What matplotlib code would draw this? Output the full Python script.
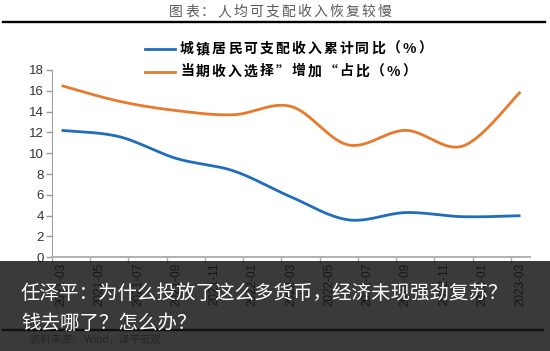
import numpy as np
import matplotlib.pyplot as plt
from matplotlib.patches import Rectangle
from matplotlib.lines import Line2D

plt.rcParams['font.family'] = ['Noto Sans CJK SC', 'DejaVu Sans']

W, H = 550, 351

# quarterly points, in months from 2021-03
months = np.arange(0, 25, 3)
urban_yoy = [12.2, 11.6, 9.5, 8.3, 5.8, 3.6, 4.3, 3.9, 4.0]
income_up = [16.5, 15.0, 14.1, 13.7, 14.5, 10.8, 12.2, 10.7, 15.9]

tick_pos = np.arange(0, 25, 2)
tick_labels = ['2021-03', '2021-05', '2021-07', '2021-09', '2021-11',
               '2022-01', '2022-03', '2022-05', '2022-07', '2022-09',
               '2022-11', '2023-01', '2023-03']

name_urban = '城镇居民可支配收入累计同比（%）'
name_income = '当期收入选择”增加“占比（%）'
title = '图表：人均可支配收入恢复较慢'
source = '资料来源： Wind，泽平宏观'
banner = ['任泽平：为什么投放了这么多货币，经济未现强劲复苏？', '钱去哪了？怎么办？']

blue = '#1f6dbd'
orange = '#e8792d'


def smooth(x, y, n=40):
    # excel style smoothed line through the points
    x = np.asarray(x, float)
    y = np.asarray(y, float)
    P = np.column_stack([x, y])
    P = np.vstack([P[0], P, P[-1]])
    t = np.linspace(0, 1, n)[:, None]
    segs = []
    for i in range(len(x) - 1):
        p0, p1, p2, p3 = P[i], P[i + 1], P[i + 2], P[i + 3]
        c1 = p1 + (p2 - p0) / 6
        c2 = p2 - (p3 - p1) / 6
        b = ((1 - t) ** 3) * p1 + 3 * ((1 - t) ** 2) * t * c1 + 3 * (1 - t) * t ** 2 * c2 + t ** 3 * p2
        segs.append(b if i == 0 else b[1:])
    s = np.vstack(segs)
    return s[:, 0], s[:, 1]


def fx(x):
    return x / W


def fy(y):
    return 1 - y / H


def spaced(x0, y, s, step, **kw):
    for i, ch in enumerate(s):
        fig.text(fx(x0 + i * step), fy(y), ch, ha='center', va='center', **kw)


fig = plt.figure(figsize=(W / 100, H / 100), dpi=100)
fig.patch.set_facecolor('white')

ax = fig.add_axes([fx(52), fy(257.3), (530 - 52) / W, (257.3 - 70) / H])
xs, ys = smooth(months, urban_yoy)
ax.plot(xs, ys, color=blue, lw=2.0, solid_capstyle='butt')
xs, ys = smooth(months, income_up)
ax.plot(xs, ys, color=orange, lw=2.0, solid_capstyle='butt')

ax.set_xlim(-0.5, 24.5)
ax.set_ylim(0, 18)
ax.set_yticks(range(0, 19, 2))
ax.set_xticks(tick_pos)
ax.set_xticklabels(tick_labels, rotation=90, family='Liberation Sans', fontsize=8.5, color='#222222')
ax.set_xticks(np.arange(-0.5, 25, 2), minor=True)
for lab in ax.get_yticklabels():
    lab.set_family('Liberation Sans')
ax.tick_params(axis='y', labelsize=9.5, colors='#999999', labelcolor='#333333', length=4, width=1, pad=2)
ax.tick_params(axis='x', which='major', length=0, pad=4)
ax.tick_params(axis='x', which='minor', length=4, width=1, colors='#aaaaaa')
for side in ['top', 'right']:
    ax.spines[side].set_visible(False)
ax.spines['left'].set_color('#a0a0a0')
ax.spines['bottom'].set_color('#b0b0b0')
ax.spines['bottom'].set_linewidth(1.4)

# title and rules
spaced(176, 12, title, 16, fontsize=10, color='#5a5a5a')
fig.add_artist(Line2D([fx(3), fx(545)], [fy(22), fy(22)], color='black', lw=1.7))

# legend
for yy, col, name in [(49, blue, name_urban), (71.5, orange, name_income)]:
    fig.add_artist(Line2D([fx(145), fx(175)], [fy(yy), fy(yy)], color=col, lw=2.0))
    spaced(187, yy, name, 15.9, fontsize=10, fontweight='bold', color='black')

# source line
fig.add_artist(Line2D([fx(3), fx(543)], [fy(330), fy(330)], color='black', lw=1.7))
fig.text(fx(30), fy(340), source, fontsize=7.5, color='#7a7a7a', va='center', style='italic')

# dark banner on top
fig.add_artist(Rectangle((0, 0), 1, fy(261), transform=fig.transFigure,
                         facecolor='#141414', alpha=0.84, edgecolor='none', zorder=5))
fig.text(fx(21), fy(293), banner[0], fontsize=14, color='white', va='center', zorder=6)
fig.text(fx(21), fy(323), banner[1], fontsize=14, color='white', va='center', zorder=6)

fig.savefig('out.png', dpi=100)
